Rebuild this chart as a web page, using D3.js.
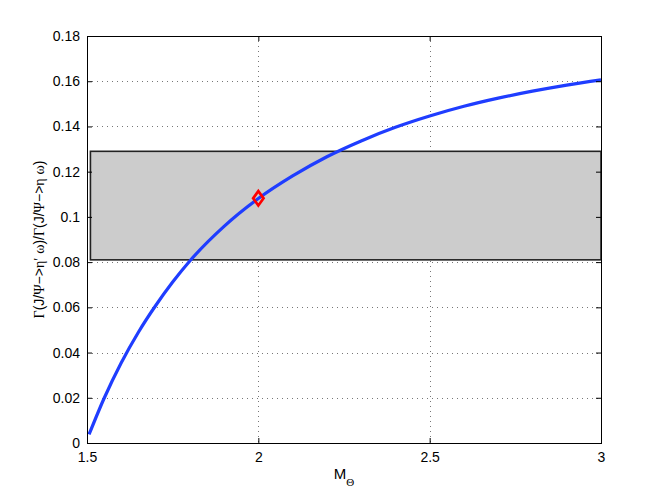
<!DOCTYPE html>
<html lang="en">
<head>
  <meta charset="UTF-8">
  <title>Ratio vs M_Theta</title>
  <script src="https://d3js.org/d3.v7.min.js"></script>
  <style>
    body { margin: 0; background: #fff; }
    svg { display: block; font-family: 'Liberation Sans', Arial, sans-serif; }
    .tick text { font-size: 14px; fill: #000; }
  </style>
</head>
<body>
  <svg width="664" height="500"></svg>
  <script>
    // curve points
    const massValues = [1.506, 1.55, 1.6, 1.65, 1.7, 1.75, 1.8, 1.9, 2.0, 2.1, 2.2, 2.3, 2.4, 2.5, 2.6, 2.7, 2.8, 2.9, 3.0];
    const ratioValues = [0.0038, 0.0198, 0.0355, 0.049, 0.0607, 0.0712, 0.0805, 0.0958, 0.1081, 0.1181, 0.1266, 0.1336, 0.1396, 0.1446, 0.1489, 0.1525, 0.1556, 0.1583, 0.1606];
    const bandX = [1.51, 3.0];
    const bandY = [0.081, 0.129];
    const markerPoint = [2.0, 0.1082];
    const xTicks = [1.5, 2, 2.5, 3];
    const yTicks = [0, 0.02, 0.04, 0.06, 0.08, 0.1, 0.12, 0.14, 0.16, 0.18];

    const svg = d3.select("svg");
    const plotL = 87, plotR = 601, plotT = 36, plotB = 443;

    const x = d3.scaleLinear().domain([1.5, 3]).range([plotL, plotR]);
    const y = d3.scaleLinear().domain([0, 0.18]).range([plotB, plotT]);

    // grid
    const grid = svg.append("g").attr("stroke", "#777").attr("stroke-width", 1).attr("stroke-dasharray", "1,4");
    grid.selectAll(".gx").data(xTicks.slice(1, -1)).enter().append("line")
      .attr("x1", d => Math.round(x(d)) + 0.5).attr("x2", d => Math.round(x(d)) + 0.5)
      .attr("y1", plotT).attr("y2", plotB);
    grid.selectAll(".gy").data(yTicks.slice(1, -1)).enter().append("line")
      .attr("y1", d => Math.round(y(d)) + 0.5).attr("y2", d => Math.round(y(d)) + 0.5)
      .attr("x1", plotL).attr("x2", plotR);

    // band
    svg.append("rect")
      .attr("x", x(bandX[0])).attr("y", y(bandY[1]))
      .attr("width", x(bandX[1]) - x(bandX[0]))
      .attr("height", y(bandY[0]) - y(bandY[1]))
      .attr("fill", "#cccccc").attr("stroke", "#222").attr("stroke-width", 1.6);

    // curve
    const pts = massValues.map((m, i) => [m, ratioValues[i]]);
    svg.append("path")
      .datum(pts)
      .attr("fill", "none")
      .attr("stroke", "#1f3dff")
      .attr("stroke-width", 3.2)
      .attr("d", d3.line().x(d => x(d[0])).y(d => y(d[1])).curve(d3.curveMonotoneX));

    // marker
    svg.append("path")
      .attr("d", d3.symbol(d3.symbolDiamond, 60)())
      .attr("transform", `translate(${x(markerPoint[0])},${y(markerPoint[1])}) scale(1.25,1)`)
      .attr("fill", "none").attr("stroke", "#ff0000").attr("stroke-width", 2.3);

    // axes with inward ticks
    svg.append("g").attr("transform", `translate(0,${plotB})`)
      .call(d3.axisBottom(x).tickValues(xTicks).tickSize(-5).tickPadding(9).tickFormat(d3.format("")));
    svg.append("g").attr("transform", `translate(${plotL},0)`)
      .call(d3.axisLeft(y).tickValues(yTicks).tickSize(-5).tickPadding(7).tickFormat(d => d === 0 ? "0" : d3.format("")(+d.toFixed(2))));
    svg.append("g").attr("transform", `translate(0,${plotT})`)
      .call(d3.axisTop(x).tickValues(xTicks).tickSize(-5).tickFormat(""));
    svg.append("g").attr("transform", `translate(${plotR},0)`)
      .call(d3.axisRight(y).tickValues(yTicks).tickSize(-5).tickFormat(""));
    svg.selectAll(".domain").remove();
    svg.selectAll(".tick line").attr("stroke", "#000");
    svg.selectAll(".tick text").attr("font-family", "'Liberation Sans', Arial, sans-serif");

    svg.append("rect")
      .attr("x", plotL + 0.5).attr("y", plotT + 0.5)
      .attr("width", plotR - plotL).attr("height", plotB - plotT)
      .attr("fill", "none").attr("stroke", "#000").attr("stroke-width", 1);

    // x label
    const xl = svg.append("text").attr("x", (plotL + plotR) / 2).attr("y", 479)
      .attr("text-anchor", "middle").attr("font-size", 15);
    xl.append("tspan").text("M");
    xl.append("tspan").attr("dy", 7).attr("font-size", 11)
      .attr("font-family", "'Liberation Serif', serif").text("Θ");

    // y label
    const yl = svg.append("text")
      .attr("transform", `translate(44,${(plotT + plotB) / 2}) rotate(-90)`)
      .attr("text-anchor", "middle").attr("font-size", 14);
    const parts = [["Γ", 1], ["(J/", 0], ["Ψ", 1], ["−>", 0], ["η′", 1], [" ", 0], ["ω", 1], [")/", 0],
                   ["Γ", 1], ["(J/", 0], ["Ψ", 1], ["−>", 0], ["η", 1], [" ", 0], ["ω", 1], [")", 0]];
    parts.forEach(p => {
      yl.append("tspan")
        .attr("font-family", p[1] ? "'Liberation Serif', serif" : "'Liberation Sans', Arial, sans-serif")
        .attr("xml:space", "preserve")
        .text(p[0]);
    });
  </script>
</body>
</html>
